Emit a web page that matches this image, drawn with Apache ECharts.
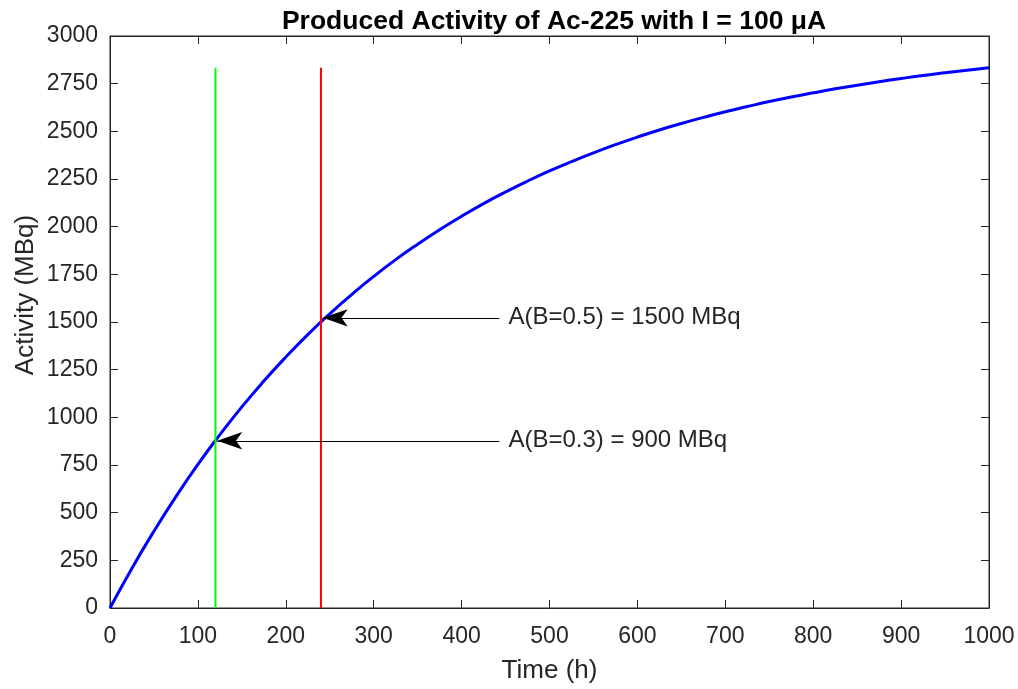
<!DOCTYPE html>
<html>
<head>
<meta charset="utf-8">
<title>Produced Activity of Ac-225</title>
<script src="https://cdn.jsdelivr.net/npm/echarts@6/dist/echarts.min.js"></script>
<style>
  html, body { margin: 0; padding: 0; background: #fff; }
  #chart { width: 1018px; height: 689px; }
</style>
</head>
<body>
<div id="chart"></div>
<script>
// 时间 (h)，每 25 h 一个点
const timeH = [0, 25, 50, 75, 100, 125, 150, 175, 200, 225, 250, 275, 300, 325, 350, 375, 400,
  425, 450, 475, 500, 525, 550, 575, 600, 625, 650, 675, 700, 725, 750, 775, 800,
  825, 850, 875, 900, 925, 950, 975, 1000];
// 活度 (MBq)
const activity = [0, 209, 403, 584, 753, 909, 1055, 1190, 1316, 1434, 1543, 1644, 1739, 1827, 1908, 1984, 2055,
  2121, 2182, 2239, 2292, 2341, 2387, 2430, 2470, 2507, 2541, 2573, 2603, 2630, 2656, 2680, 2702,
  2723, 2742, 2760, 2777, 2793, 2807, 2820, 2833];

// 两条竖线
const greenLineX = [120, 120];
const greenLineY = [0, 2833];
const redLineX = [240, 240];
const redLineY = [0, 2833];

// 箭头标注: 起点x, 终点x, y, 文字
const arrowFromX = [443, 443];
const arrowToX = [242, 122];
const arrowY = [1522, 877];
const arrowText = ['A(B=0.5) = 1500 MBq', 'A(B=0.3) = 900 MBq'];

const zip = (xs, ys) => xs.map((x, i) => [x, ys[i]]);

const axisColor = '#262626';
const font = 'Liberation Sans, Arial, Helvetica, sans-serif';

const chart = echarts.init(document.getElementById('chart'), null, { renderer: 'canvas' });

function boxAxis(extra) {
  return Object.assign({
    min: 0,
    axisLine: { show: true, onZero: false, lineStyle: { color: axisColor, width: 1 } },
    axisTick: { show: true, inside: true, length: 8, lineStyle: { color: axisColor, width: 1 } },
    splitLine: { show: false }
  }, extra);
}

chart.setOption({
  animation: false,
  backgroundColor: '#fff',
  textStyle: { fontFamily: font },
  title: {
    text: 'Produced Activity of Ac-225 with I = 100 μA',
    left: 549,
    textAlign: 'center',
    top: 3,
    textStyle: { fontFamily: font, fontSize: 26.5, fontWeight: 'bold', color: '#000' }
  },
  grid: {
    left: 110, right: 29, top: 36, bottom: 81,
    show: true, borderColor: axisColor, borderWidth: 1, backgroundColor: 'transparent'
  },
  xAxis: [
    boxAxis({
      type: 'value', max: 1000, interval: 100, position: 'bottom',
      name: 'Time (h)', nameLocation: 'middle', nameGap: 50,
      nameTextStyle: { fontFamily: font, fontSize: 26, color: axisColor },
      axisLabel: { fontFamily: font, fontSize: 23, color: axisColor, margin: 17, formatter: v => String(v) }
    }),
    boxAxis({
      type: 'value', max: 1000, interval: 100, position: 'top',
      axisLabel: { show: false }
    })
  ],
  yAxis: [
    boxAxis({
      type: 'value', max: 3000, interval: 250, position: 'left',
      axisLabel: { fontFamily: font, fontSize: 23, color: axisColor, margin: 12, formatter: v => String(v) }
    }),
    boxAxis({
      type: 'value', max: 3000, interval: 250, position: 'right',
      axisLabel: { show: false }
    })
  ],
  graphic: [{
    type: 'text',
    x: 26, y: 295,
    rotation: Math.PI / 2,
    style: {
      text: 'Activity (MBq)',
      font: '26px ' + font,
      fill: axisColor,
      align: 'center',
      verticalAlign: 'middle'
    }
  }],
  series: [
    {
      name: 'Activity',
      type: 'line',
      data: zip(timeH, activity),
      showSymbol: false,
      smooth: true,
      lineStyle: { color: '#0000ff', width: 3 }
    },
    {
      name: 'B=0.3',
      type: 'line',
      data: zip(greenLineX, greenLineY),
      showSymbol: false,
      lineStyle: { color: '#00ff00', width: 2 }
    },
    {
      name: 'B=0.5',
      type: 'line',
      data: zip(redLineX, redLineY),
      showSymbol: false,
      lineStyle: { color: '#ff0000', width: 2 }
    },
    {
      name: 'annotations',
      type: 'line',
      data: [],
      markLine: {
        silent: true,
        symbol: ['none', 'arrow'],
        symbolSize: [13, 25],
        lineStyle: { color: '#000', width: 1, type: 'solid' },
        label: {
          show: true,
          position: 'start',
          distance: 9,
          fontFamily: font,
          fontSize: 24,
          color: axisColor,
          padding: [9, 0, 0, 0],
          formatter: p => p.name
        },
        data: arrowText.map((t, i) => [
          { name: t, coord: [arrowFromX[i], arrowY[i]] },
          { coord: [arrowToX[i], arrowY[i]] }
        ])
      }
    }
  ]
});
</script>
</body>
</html>
